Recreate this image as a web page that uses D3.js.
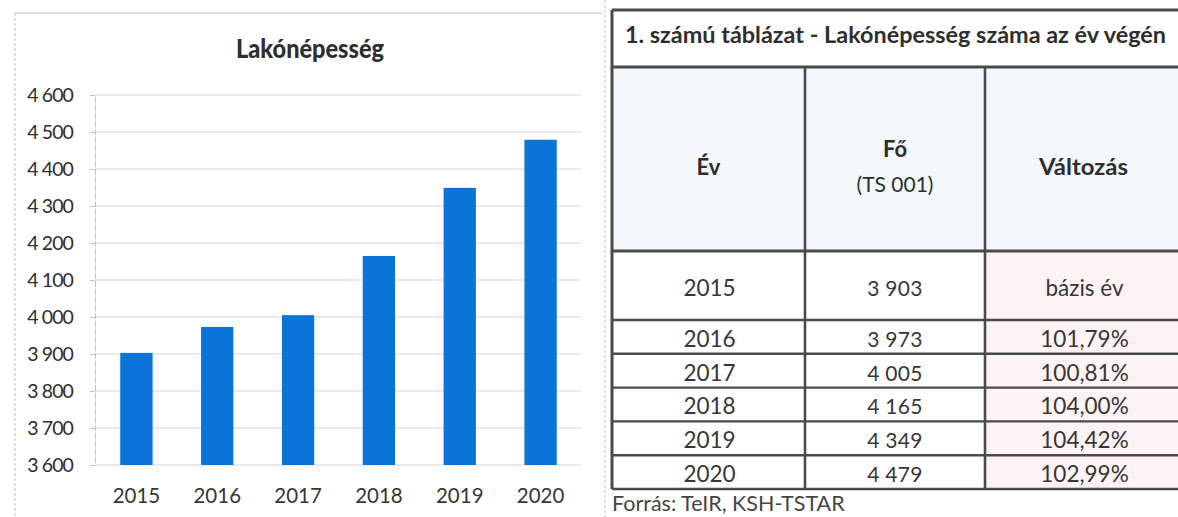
<!DOCTYPE html>
<html>
<head>
<meta charset="utf-8">
<script src="https://cdn.jsdelivr.net/npm/d3@7"></script>
<style>
  html, body { margin: 0; padding: 0; background: #fff; }
  svg { display: block; font-family: Lato, 'Open Sans', sans-serif; }
</style>
</head>
<body>
<svg width="1178" height="517"></svg>
<script>
const years = ['2015', '2016', '2017', '2018', '2019', '2020'];
const population = [3903, 3973, 4005, 4165, 4349, 4479];
const changes = ['bázis év', '101,79%', '100,81%', '104,00%', '104,42%', '102,99%'];
const yTickValues = [3600, 3700, 3800, 3900, 4000, 4100, 4200, 4300, 4400, 4500, 4600];

const chartTitle = 'Lakónépesség';
const tableTitle = '1. számú táblázat - Lakónépesség száma az év végén';
const headers = ['Év', 'Fő', 'Változás'];
const subHeader = '(TS 001)';
const source = 'Forrás: TeIR, KSH-TSTAR';

const hu = d3.formatLocale({ decimal: ',', thousands: ' ', grouping: [3], currency: ['', ''] });
const fmt = hu.format(',');

const svg = d3.select('svg');
const textColor = '#363636';

// ---- left panel: bar chart ----
const panel = svg.append('g');
panel.append('line')
  .attr('x1', 15).attr('x2', 602).attr('y1', 13).attr('y2', 13)
  .attr('stroke', '#d6d6d6').attr('stroke-width', 1.5);
panel.append('line')
  .attr('x1', 15).attr('x2', 15).attr('y1', 13).attr('y2', 517)
  .attr('stroke', '#bdbdbd').attr('stroke-dasharray', '3,2');
panel.append('line')
  .attr('x1', 605).attr('x2', 605).attr('y1', 0).attr('y2', 517)
  .attr('stroke', '#c4c4c4').attr('stroke-dasharray', '3,2');

panel.append('text')
  .attr('x', 310).attr('y', 58)
  .attr('text-anchor', 'middle')
  .attr('font-size', 27).attr('font-weight', 900)
  .attr('fill', '#2e2e2e')
  .attr('textLength', 148).attr('lengthAdjust', 'spacingAndGlyphs')
  .text(chartTitle);

const x = d3.scaleBand()
  .domain(years)
  .range([96, 581])
  .paddingInner(0.6)
  .paddingOuter(0.3);

const y = d3.scaleLinear()
  .domain([3600, 4600])
  .range([465, 95]);

// gridlines
panel.append('g')
  .selectAll('line')
  .data(yTickValues)
  .enter()
  .append('line')
  .attr('x1', 95).attr('x2', 581)
  .attr('y1', d => y(d)).attr('y2', d => y(d))
  .attr('stroke', '#e3e3e3').attr('stroke-width', 1.5);

// y axis
const yAxis = panel.append('g')
  .attr('transform', 'translate(95,0)')
  .call(d3.axisLeft(y).tickValues(yTickValues).tickFormat(fmt).tickSize(5).tickPadding(17));
yAxis.select('.domain').attr('stroke', '#c2bfd0').attr('stroke-dasharray', '6,2');
yAxis.selectAll('.tick line').attr('stroke', '#c2bfd0');
yAxis.selectAll('.tick text')
  .attr('font-family', 'Lato, sans-serif')
  .attr('font-size', 19.5)
  .attr('letter-spacing', -0.9)
  .attr('fill', '#2e2e2e');

// bars
panel.append('g')
  .selectAll('rect')
  .data(population)
  .enter()
  .append('rect')
  .attr('x', (d, i) => x(years[i]))
  .attr('y', d => y(d))
  .attr('width', x.bandwidth())
  .attr('height', d => y(3600) - y(d))
  .attr('fill', '#0b75d7');

// x axis labels
const xAxis = panel.append('g')
  .attr('transform', 'translate(0,465)')
  .call(d3.axisBottom(x).tickSize(0).tickPadding(23));
xAxis.select('.domain').remove();
xAxis.selectAll('.tick text')
  .attr('font-family', 'Lato, sans-serif')
  .attr('font-size', 20.5)
  .attr('fill', textColor);

// ---- right panel: table ----
const table = svg.append('g');
const colEdges = [612, 805, 985, 1184];
const titleTop = 10, titleBottom = 67, headerBottom = 251, firstRowBottom = 320, tableBottom = 489;
const rowH = (tableBottom - firstRowBottom) / (years.length - 1);
const rowBottom = i => i === 0 ? firstRowBottom : firstRowBottom + i * rowH;
const colMid = c => (colEdges[c] + colEdges[c + 1]) / 2;

// fills
table.append('rect')
  .attr('x', colEdges[0]).attr('y', titleBottom)
  .attr('width', colEdges[3] - colEdges[0]).attr('height', headerBottom - titleBottom)
  .attr('fill', '#f3f9fb');
table.append('rect')
  .attr('x', colEdges[2]).attr('y', headerBottom)
  .attr('width', colEdges[3] - colEdges[2]).attr('height', tableBottom - headerBottom)
  .attr('fill', '#fdf3f5');

const lineColor = '#4a4a4a';
// horizontal lines
const hLines = [titleTop, titleBottom, headerBottom].concat(years.map((d, i) => rowBottom(i)));
table.append('g')
  .selectAll('line')
  .data(hLines)
  .enter()
  .append('line')
  .attr('x1', colEdges[0]).attr('x2', colEdges[3])
  .attr('y1', d => d).attr('y2', d => d)
  .attr('stroke', lineColor)
  .attr('stroke-width', (d, i) => i < 3 ? 3 : 2.4);
// vertical lines
table.append('line')
  .attr('x1', colEdges[0]).attr('x2', colEdges[0])
  .attr('y1', titleTop).attr('y2', tableBottom)
  .attr('stroke', lineColor).attr('stroke-width', 3);
table.append('g')
  .selectAll('line')
  .data([colEdges[1], colEdges[2]])
  .enter()
  .append('line')
  .attr('x1', d => d).attr('x2', d => d)
  .attr('y1', titleBottom).attr('y2', tableBottom)
  .attr('stroke', lineColor).attr('stroke-width', 2.6);

// title
table.append('text')
  .attr('x', 625).attr('y', 43)
  .attr('font-size', 22).attr('font-weight', 700)
  .attr('fill', '#2e2e2e')
  .attr('textLength', 541).attr('lengthAdjust', 'spacingAndGlyphs')
  .text(tableTitle);

// headers
table.append('text')
  .attr('x', colMid(0)).attr('y', 175)
  .attr('text-anchor', 'middle').attr('font-size', 22).attr('font-weight', 700)
  .attr('fill', '#2e2e2e').text(headers[0]);
table.append('text')
  .attr('x', colMid(1)).attr('y', 157)
  .attr('text-anchor', 'middle').attr('font-size', 22).attr('font-weight', 700)
  .attr('fill', '#2e2e2e').text(headers[1]);
table.append('text')
  .attr('x', colMid(1)).attr('y', 192)
  .attr('text-anchor', 'middle').attr('font-size', 21)
  .attr('fill', '#2e2e2e').text(subHeader);
table.append('text')
  .attr('x', colMid(2) - 1).attr('y', 175)
  .attr('text-anchor', 'middle').attr('font-size', 22).attr('font-weight', 700)
  .attr('textLength', 89).attr('lengthAdjust', 'spacingAndGlyphs')
  .attr('fill', '#2e2e2e').text(headers[2]);

// body
const rows = table.append('g')
  .selectAll('g')
  .data(years)
  .enter()
  .append('g');
const baseline = i => rowBottom(i) - (i === 0 ? 24 : 7);
rows.append('text')
  .attr('x', colMid(0) + 1).attr('y', (d, i) => baseline(i))
  .attr('text-anchor', 'middle').attr('font-size', 22.5)
  .attr('fill', textColor).text(d => d);
rows.append('text')
  .attr('x', colMid(1)).attr('y', (d, i) => baseline(i))
  .attr('text-anchor', 'middle').attr('font-size', 21)
  .attr('letter-spacing', 0.3)
  .attr('fill', textColor).text((d, i) => fmt(population[i]));
rows.append('text')
  .attr('x', colMid(2)).attr('y', (d, i) => baseline(i))
  .attr('text-anchor', 'middle').attr('font-size', 22.5)
  .attr('fill', textColor).text((d, i) => changes[i]);

// source
svg.append('text')
  .attr('x', 612).attr('y', 511)
  .attr('font-size', 21.5)
  .attr('fill', '#454545')
  .text(source);
</script>
</body>
</html>
